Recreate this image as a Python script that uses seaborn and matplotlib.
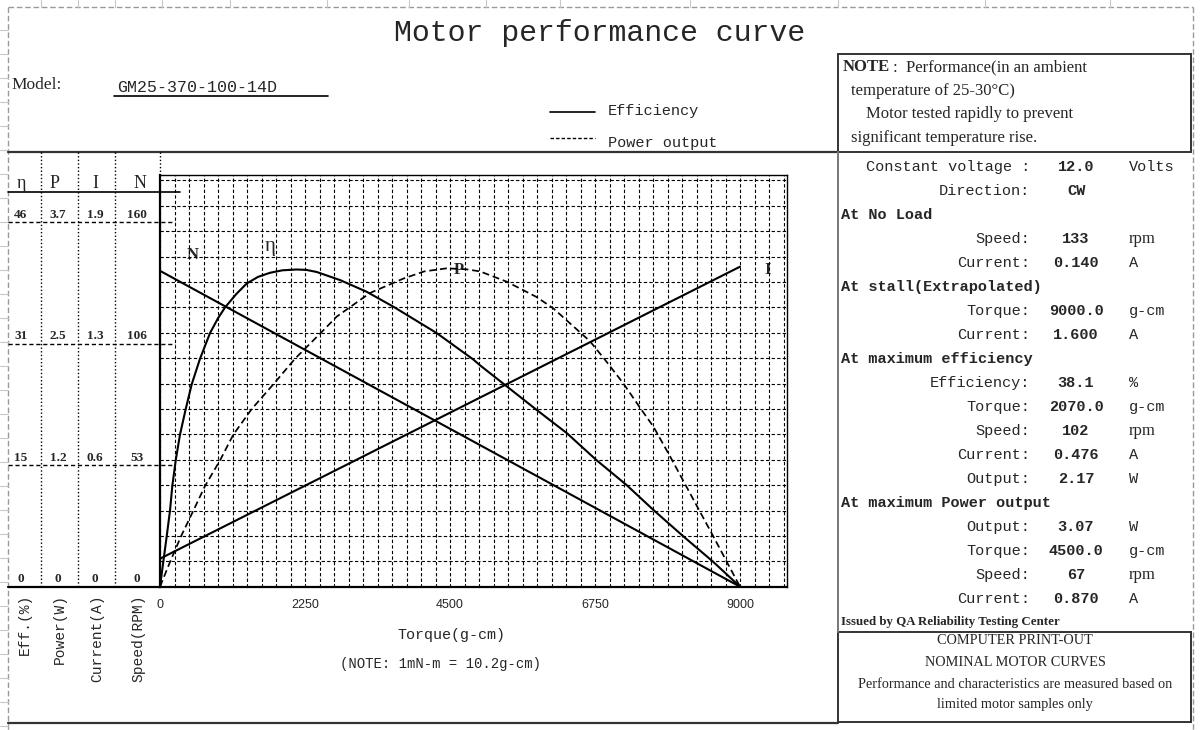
import numpy as np
import matplotlib
matplotlib.use("Agg")
import matplotlib.pyplot as plt
import seaborn as sns

# ---- data ----
torque_ticks = [0, 2250, 4500, 6750, 9000]

scale_names = ["η", "P", "I", "N"]
eff_labels = ["0", "15", "31", "46"]
power_labels = ["0", "1.2", "2.5", "3.7"]
current_labels = ["0", "0.6", "1.3", "1.9"]
speed_labels = ["0", "53", "106", "160"]
axis_titles = ["Eff.(%)", "Power(W)", "Current(A)", "Speed(RPM)"]
eff_full, power_full, current_full, speed_full = 46, 3.7, 1.9, 160

speed_torque = [0, 9000]
speed_rpm = [133, 0]

current_torque = [0, 9000]
current_amp = [0.14, 1.6]

eff_torque = [0, 51, 104, 155, 191, 244, 310, 399, 492, 621, 776, 900, 1009, 1180, 1345,
              1520, 1707, 1900, 2121, 2270, 2431, 2800, 3207, 3620, 4294, 4862, 4966,
              5845, 6311, 6776, 7241, 7655, 8120, 8586, 9000]
eff_pct = [0, 3.0, 6.1, 9.2, 12.2, 15.3, 18.4, 21.5, 24.5, 27.6, 30.7, 32.5, 33.8, 35.4, 36.7,
           37.5, 38.0, 38.3, 38.4, 38.35, 38.1, 37.1, 35.7, 33.9, 30.7, 27.5, 26.8,
           21.4, 18.6, 15.3, 12.3, 9.3, 6.1, 3.0, 0]

power_torque = [0, 155, 326, 517, 698, 931, 1137, 1423, 1758, 2095, 2509, 2742, 3259,
                3776, 4100, 4449, 4759, 4966, 5380, 5845, 6103, 6672, 6905, 7189, 7474,
                7655, 7914, 8224, 8586, 9000]
power_w = [0, 0.24, 0.49, 0.74, 0.98, 1.23, 1.48, 1.73, 1.97, 2.22, 2.48, 2.63, 2.86,
           3.00, 3.07, 3.10, 3.09, 3.07, 2.97, 2.82, 2.71, 2.39, 2.21, 1.98, 1.72,
           1.56, 1.27, 0.91, 0.49, 0]

model_name = "GM25-370-100-14D"

spec_labels = ["Constant voltage :", "Direction:", "At No Load", "Speed:", "Current:",
               "At stall(Extrapolated)", "Torque:", "Current:", "At maximum efficiency",
               "Efficiency:", "Torque:", "Speed:", "Current:", "Output:",
               "At maximum Power output", "Output:", "Torque:", "Speed:", "Current:"]
spec_values = ["12.0", "CW", "", "133", "0.140", "", "9000.0", "1.600", "", "38.1",
               "2070.0", "102", "0.476", "2.17", "", "3.07", "4500.0", "67", "0.870"]
spec_units = ["Volts", "", "", "rpm", "A", "", "g-cm", "A", "", "%", "g-cm", "rpm", "A",
              "W", "", "W", "g-cm", "rpm", "A"]

note_lines = ["temperature of 25-30°C)", "Motor tested rapidly to prevent",
              "significant temperature rise."]
footer_lines = ["COMPUTER PRINT-OUT", "NOMINAL MOTOR CURVES",
                "Performance and characteristics are measured based on",
                "limited motor samples only"]

# ---- layout (pixels of a 1200x730 sheet) ----
W, H = 1200, 730
X0, X1 = 160, 786.5          # plot box left/right
Y0, Y1 = 586.7, 175          # plot box bottom/top
X9000 = 740
FULL_PX = 380                # height of full scale for the curves
LABEL_FRAC = 364.7 / FULL_PX # where the printed scale tops sit
GRID_PX = 25.4

MONO = ["Liberation Mono", "DejaVu Sans Mono"]
SERIF = ["Liberation Serif", "DejaVu Serif"]
SANS = ["Liberation Sans", "DejaVu Sans"]

sns.set_style("white")
plt.rcParams["font.family"] = MONO

fig = plt.figure(figsize=(W / 100, H / 100), dpi=100)
ov = fig.add_axes([0, 0, 1, 1], zorder=0)
ov.set_xlim(0, W)
ov.set_ylim(H, 0)
ov.axis("off")

ax = fig.add_axes([X0 / W, (H - Y0) / H, (X1 - X0) / W, (Y0 - Y1) / H], zorder=1)
ax.set_facecolor("none")


def py(frac):
    return Y0 - FULL_PX * frac


# ---- curves ----
lw = 1.5
sns.lineplot(x=speed_torque, y=[v / speed_full for v in speed_rpm], ax=ax,
             color="black", lw=lw, estimator=None, sort=False)
sns.lineplot(x=current_torque, y=[v / current_full for v in current_amp], ax=ax,
             color="black", lw=lw, estimator=None, sort=False)
sns.lineplot(x=eff_torque, y=[v / eff_full for v in eff_pct], ax=ax,
             color="black", lw=lw, estimator=None, sort=False)
sns.lineplot(x=power_torque, y=[v / power_full for v in power_w], ax=ax,
             color="black", lw=1.25, linestyle=(0, (4, 2.2)), estimator=None, sort=False)

xmax = 9000 * (X1 - X0) / (X9000 - X0)
ymax = (Y0 - Y1) / FULL_PX
ax.set_xlim(0, xmax)
ax.set_ylim(0, ymax)
ax.set_xticks(torque_ticks)
ax.set_xticks(np.arange(225, xmax, 225), minor=True)
ax.set_xticklabels([str(t) for t in torque_ticks], fontfamily=SANS, fontsize=9)
ystep = GRID_PX / FULL_PX
ax.set_yticks(np.arange(1, 17) * ystep)
ax.set_yticklabels([])
ax.tick_params(which="both", length=0, pad=9)
ax.grid(which="both", color="black", linestyle=(0, (3, 2)), linewidth=0.8)
ax.set_axisbelow(True)
for s in ax.spines.values():
    s.set_color("black")
    s.set_linewidth(1.0)
ax.spines["left"].set_linewidth(1.6)
ax.spines["bottom"].set_linewidth(1.6)
ax.set_xlabel("")
ax.set_ylabel("")

# curve tags
ov.text(193, 255, "N", family=SERIF, weight="bold", fontsize=12, ha="center", va="center")
ov.text(270, 246, "η", family=SERIF, fontsize=15, ha="center", va="center")
ov.text(459, 270, "P", family=SERIF, weight="bold", fontsize=12, ha="center", va="center")
ov.text(768, 270, "I", family=SERIF, weight="bold", fontsize=12, ha="center", va="center")

# ---- page frame ----
grey = "#9a9a9a"
ov.plot([8, 8], [7, H], color=grey, lw=1, ls=(0, (4, 2)))
ov.plot([8, 1193], [7, 7], color=grey, lw=1, ls=(0, (4, 2)))
ov.plot([1193, 1193], [7, H], color=grey, lw=1, ls=(0, (4, 2)))
for yy in np.arange(30, H, 24):
    ov.plot([0, 8], [yy, yy], color="#c8c8c8", lw=0.8)
for xx in [40.7, 78.3, 115, 161.7, 230, 326.7, 409.3, 486, 560, 690, 838, 985, 1110]:
    ov.plot([xx, xx], [0, 7], color="#c8c8c8", lw=0.8)

ov.plot([8, 838], [152, 152], color="#333333", lw=1.6)
ov.plot([8, 838], [722.5, 722.5], color="#333333", lw=1.6)
ov.plot([838, 838], [152, 632], color="#777777", lw=1.4)

# title and model
ov.text(600, 33, "Motor performance curve", fontsize=21.5, ha="center", va="center")
ov.text(11, 85, "Model:", family=SERIF, fontsize=12.5, ha="left", va="center")
ov.text(117, 87, model_name, fontsize=12, ha="left", va="center")
ov.plot([114, 328], [96, 96], color="black", lw=1.2)

# legend
ov.plot([550, 595], [112, 112], color="black", lw=1.2)
ov.text(608, 111, "Efficiency", fontsize=11, ha="left", va="center")
ov.plot([550, 595], [138, 138], color="black", lw=1.0, ls=(0, (2.5, 1.5)))
ov.text(608, 143, "Power output", fontsize=11, ha="left", va="center")

# ---- left scales ----
col_x = [21, 58, 95, 137]
for xx in [40.7, 78.3, 115]:
    ov.plot([xx, xx], [152, Y0], color="black", lw=1, ls=(0, (1, 1.6)))
ov.plot([160, 160], [152, Y1], color="black", lw=1, ls=(0, (1, 1.6)))
ov.plot([8, 180], [191.7, 191.7], color="black", lw=1.2)
ov.plot([8, X0], [Y0, Y0], color="black", lw=1.6)
for name, xx in zip(scale_names, [21, 55, 95, 140]):
    ov.text(xx, 184, name, family=SERIF, fontsize=13, ha="center", va="center")
for k in range(1, 4):
    yy = py(LABEL_FRAC * k / 3)
    ov.plot([8, 175], [yy, yy], color="black", lw=1, ls=(0, (3, 2)))
for labels, xx in zip([eff_labels, power_labels, current_labels, speed_labels], col_x):
    for k, lab in enumerate(labels):
        yy = py(LABEL_FRAC * k / 3) - 1.5
        ov.text(xx, yy, lab, family=SERIF, weight="bold", fontsize=9.5, ha="center", va="bottom")
for title, xx in zip(axis_titles, [25, 60, 97, 138]):
    ov.text(xx, 594, title, fontsize=10.5, rotation=90, ha="center", va="top")

# x-axis titles
ov.text(452, 635, "Torque(g-cm)", fontsize=10.8, ha="center", va="center")
ov.text(440, 664, "(NOTE: 1mN-m = 10.2g-cm)", fontsize=10, ha="center", va="center")

# ---- right panel ----
ov.add_patch(plt.Rectangle((838, 54), 353, 98, fill=False, ec="#333333", lw=1.4))
ov.text(843, 67, "NOTE", family=SERIF, weight="bold", fontsize=12, ha="left", va="center")
ov.text(893, 67, ":  Performance(in an ambient", family=SERIF, fontsize=12, ha="left", va="center")
for line, xx, yy in zip(note_lines, [851, 866, 851], [91, 114, 138]):
    ov.text(xx, yy, line, family=SERIF, fontsize=12, ha="left", va="center")

row_y0, row_dy = 167.3, 24.0
for i, (lab, val, unit) in enumerate(zip(spec_labels, spec_values, spec_units)):
    yy = row_y0 + i * row_dy
    if val == "":
        ov.text(841, yy, lab, weight="bold", fontsize=11, ha="left", va="center")
        continue
    ov.text(1030, yy, lab, fontsize=11, ha="right", va="center")
    ov.text(1076, yy, val, weight="bold", fontsize=11, ha="center", va="center")
    if unit:
        ov.text(1129, yy, unit, family=SERIF if unit == "rpm" else MONO,
                fontsize=12 if unit == "rpm" else 11, ha="left", va="center")

ov.text(841, 622.5, "Issued by QA Reliability Testing Center", family=SERIF,
        weight="bold", fontsize=9.3, ha="left", va="center")
ov.add_patch(plt.Rectangle((838, 632), 353, 90, fill=False, ec="#333333", lw=1.4))
for line, yy in zip(footer_lines, [641, 663, 684, 704.5]):
    ov.text(1015, yy, line, family=SERIF, fontsize=10.3, ha="center", va="center")

fig.savefig("out.png", dpi=100)
